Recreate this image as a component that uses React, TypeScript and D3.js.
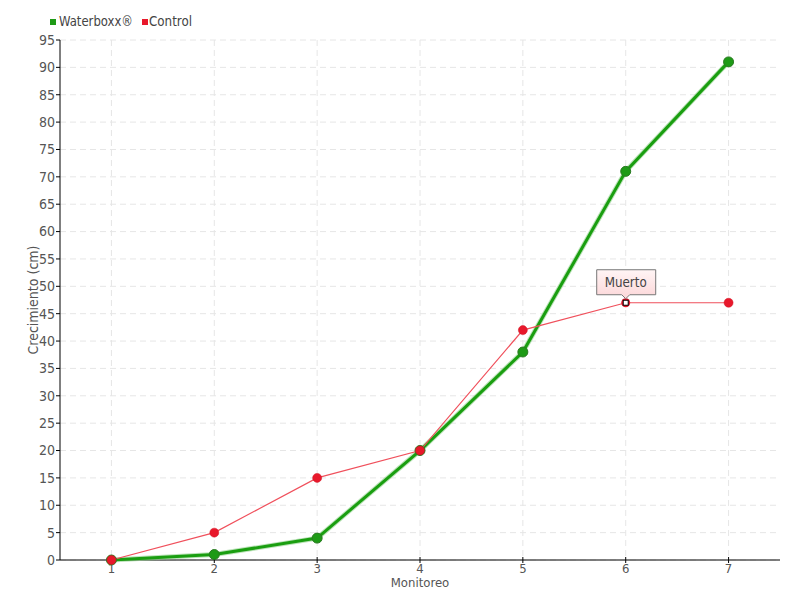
import React from "react";
import * as d3 from "d3";

const categories = ["1", "2", "3", "4", "5", "6", "7"];
const waterboxx = [0, 1, 4, 20, 38, 71, 91];
const control = [0, 5, 15, 20, 42, 47, 47];
const yTicks = d3.range(0, 100, 5);
const seriesNames = ["Waterboxx®", "Control"];
const annotationIndex = 5;
const annotationText = "Muerto";

const W = 800, H = 600;
const M = { left: 60, right: 20, top: 40, bottom: 40 };
const FONT = "'DejaVu Sans Condensed', 'DejaVu Sans', sans-serif";

export default function App() {
  const x = d3.scaleBand<string>().domain(categories).range([M.left, W - M.right]);
  const cx = (c: string) => (x(c) as number) + x.bandwidth() / 2;
  const y = d3.scaleLinear().domain([0, 95]).range([H - M.bottom, M.top]);
  const line = d3.line<number>().x((_, i) => cx(categories[i])).y((v) => y(v));
  const ax = cx(categories[annotationIndex]);
  const ay = y(control[annotationIndex]);
  return (
    <svg width={W} height={H} style={{ position: "absolute", left: 0, top: 0, fontFamily: FONT }}>
      <defs>
        <linearGradient id="tip" x1="0" y1="0" x2="0" y2="1">
          <stop offset="0" stopColor="#fff5f5" />
          <stop offset="1" stopColor="#fcd6d8" />
        </linearGradient>
      </defs>
      <rect width={W} height={H} fill="#fff" />
      {/* grid */}
      {yTicks.map((t) => (
        <line key={"gy" + t} x1={M.left} x2={W - M.right} y1={y(t)} y2={y(t)} stroke="#e6e6e6" strokeDasharray="6,4" />
      ))}
      {categories.map((c) => (
        <line key={"gx" + c} x1={cx(c)} x2={cx(c)} y1={M.top} y2={H - M.bottom} stroke="#e6e6e6" strokeDasharray="6,4" />
      ))}
      {/* axes */}
      <line x1={M.left} x2={M.left} y1={M.top} y2={H - M.bottom} stroke="#000" />
      <line x1={M.left} x2={W - M.right} y1={H - M.bottom} y2={H - M.bottom} stroke="#000" />
      {yTicks.map((t) => (
        <g key={"ty" + t}>
          <line x1={M.left - 4} x2={M.left} y1={y(t)} y2={y(t)} stroke="#000" />
          <text x={M.left - 5} y={y(t)} dy="0.35em" textAnchor="end" fontSize={14} fill="#555">{t}</text>
        </g>
      ))}
      {categories.map((c) => (
        <g key={"tx" + c}>
          <line x1={cx(c)} x2={cx(c)} y1={H - M.bottom - 3} y2={H - M.bottom + 3} stroke="#000" />
          <text x={cx(c)} y={H - M.bottom + 13} textAnchor="middle" fontSize={13} fill="#555">{c}</text>
        </g>
      ))}
      <text x={cx(categories[3])} y={H - M.bottom + 27} textAnchor="middle" fontSize={13} fill="#555">Monitoreo</text>
      <text transform={`translate(38,${(M.top + H - M.bottom) / 2}) rotate(-90)`} textAnchor="middle" fontSize={14} fill="#555">Crecimiento (cm)</text>
      {/* series */}
      <path d={line(waterboxx) || ""} fill="none" stroke="#8fd08a" strokeWidth={5} opacity={0.6} />
      <path d={line(waterboxx) || ""} fill="none" stroke="#1a9e10" strokeWidth={3} />
      <path d={line(control) || ""} fill="none" stroke="#f0505c" strokeWidth={1.2} />
      {waterboxx.map((v, i) => (
        <circle key={"w" + i} cx={cx(categories[i])} cy={y(v)} r={5} fill="#1e9a16" stroke="#2a7a22" strokeWidth={1} />
      ))}
      {control.map((v, i) =>
        i === annotationIndex ? null : (
          <circle key={"c" + i} cx={cx(categories[i])} cy={y(v)} r={4.5} fill="#e8182b" stroke="#d01020" strokeWidth={0.5} />
        )
      )}
      {/* annotation */}
      <circle cx={ax} cy={ay} r={4.5} fill="#e8182b" />
      <rect x={ax - 2.5} y={ay - 2.5} width={5} height={5} fill="#fff" stroke="#000" strokeWidth={1} />
      <g>
        <path
          d={`M${ax - 29},${ay - 33} H${ax + 30} V${ay - 8} H${ax + 4} L${ax},${ay - 4} L${ax - 4},${ay - 8} H${ax - 29} Z`}
          fill="url(#tip)"
          stroke="#777"
          strokeWidth={1}
        />
        <text x={ax} y={ay - 16} textAnchor="middle" fontSize={14} fill="#444" textLength={42} lengthAdjust="spacingAndGlyphs">{annotationText}</text>
      </g>
      {/* legend */}
      <rect x={50} y={19} width={6} height={6} fill="#1e9a16" />
      <text x={59} y={26} fontSize={14} fill="#444" textLength={74} lengthAdjust="spacingAndGlyphs">{seriesNames[0]}</text>
      <rect x={142} y={19} width={6} height={6} fill="#e8182b" />
      <text x={149} y={26} fontSize={14} fill="#444" textLength={43} lengthAdjust="spacingAndGlyphs">{seriesNames[1]}</text>
    </svg>
  );
}
